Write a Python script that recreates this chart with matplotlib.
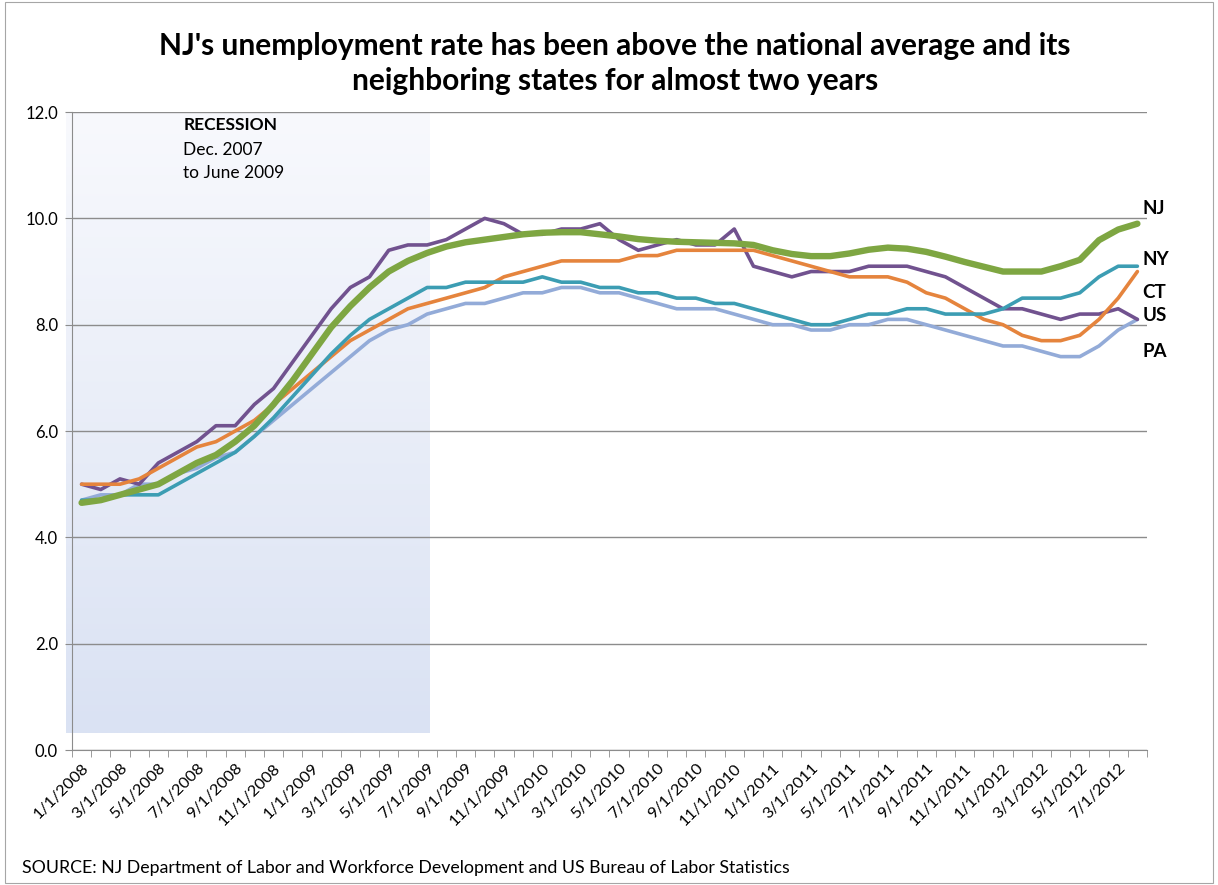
import matplotlib
matplotlib.use("Agg")
import matplotlib.pyplot as plt
import numpy as np
from matplotlib.patches import Rectangle
from matplotlib.colors import LinearSegmentedColormap

plt.rcParams['font.family'] = ['Lato', 'DejaVu Sans']

# Monthly categories, Jan 2008 - Aug 2012
months = [f"{m}/1/{y}" for y in range(2008, 2013) for m in range(1, 13)][:56]

nj = [4.65, 4.7, 4.8, 4.9, 5.0, 5.2, 5.4, 5.55, 5.8, 6.1, 6.5, 6.95, 7.45, 7.95, 8.35, 8.7,
      9.0, 9.2, 9.35, 9.47, 9.55, 9.6, 9.65, 9.7, 9.73, 9.74, 9.74, 9.7, 9.66, 9.61, 9.58, 9.56,
      9.55, 9.54, 9.53, 9.5, 9.4, 9.33, 9.29, 9.29, 9.34, 9.41, 9.45, 9.43, 9.37, 9.28, 9.18, 9.09,
      9.0, 9.0, 9.0, 9.1, 9.22, 9.59, 9.79, 9.9]
ny = [4.7, 4.7, 4.8, 4.8, 4.8, 5.0, 5.2, 5.4, 5.6, 5.9, 6.25, 6.65, 7.05, 7.45, 7.8, 8.1,
      8.3, 8.5, 8.7, 8.7, 8.8, 8.8, 8.8, 8.8, 8.9, 8.8, 8.8, 8.7, 8.7, 8.6, 8.6, 8.5,
      8.5, 8.4, 8.4, 8.3, 8.2, 8.1, 8.0, 8.0, 8.1, 8.2, 8.2, 8.3, 8.3, 8.2, 8.2, 8.2,
      8.3, 8.5, 8.5, 8.5, 8.6, 8.9, 9.1, 9.1]
ct = [5.0, 5.0, 5.0, 5.1, 5.3, 5.5, 5.7, 5.8, 6.0, 6.2, 6.5, 6.8, 7.1, 7.4, 7.7, 7.9,
      8.1, 8.3, 8.4, 8.5, 8.6, 8.7, 8.9, 9.0, 9.1, 9.2, 9.2, 9.2, 9.2, 9.3, 9.3, 9.4,
      9.4, 9.4, 9.4, 9.4, 9.3, 9.2, 9.1, 9.0, 8.9, 8.9, 8.9, 8.8, 8.6, 8.5, 8.3, 8.1,
      8.0, 7.8, 7.7, 7.7, 7.8, 8.1, 8.5, 9.0]
us = [5.0, 4.9, 5.1, 5.0, 5.4, 5.6, 5.8, 6.1, 6.1, 6.5, 6.8, 7.3, 7.8, 8.3, 8.7, 8.9,
      9.4, 9.5, 9.5, 9.6, 9.8, 10.0, 9.9, 9.7, 9.7, 9.8, 9.8, 9.9, 9.6, 9.4, 9.5, 9.6,
      9.5, 9.5, 9.8, 9.1, 9.0, 8.9, 9.0, 9.0, 9.0, 9.1, 9.1, 9.1, 9.0, 8.9, 8.7, 8.5,
      8.3, 8.3, 8.2, 8.1, 8.2, 8.2, 8.3, 8.1]
pa = [4.7, 4.8, 4.8, 5.0, 5.0, 5.2, 5.3, 5.5, 5.6, 5.9, 6.2, 6.5, 6.8, 7.1, 7.4, 7.7,
      7.9, 8.0, 8.2, 8.3, 8.4, 8.4, 8.5, 8.6, 8.6, 8.7, 8.7, 8.6, 8.6, 8.5, 8.4, 8.3,
      8.3, 8.3, 8.2, 8.1, 8.0, 8.0, 7.9, 7.9, 8.0, 8.0, 8.1, 8.1, 8.0, 7.9, 7.8, 7.7,
      7.6, 7.6, 7.5, 7.4, 7.4, 7.6, 7.9, 8.1]

series = [
    ("PA", pa, "#93abd8", 2.6),
    ("US", us, "#71528f", 2.6),
    ("CT", ct, "#e5843d", 2.6),
    ("NY", ny, "#3c9db3", 2.6),
    ("NJ", nj, "#7ea642", 4.6),
]
end_labels = {"NJ": 10.19, "NY": 9.23, "CT": 8.6, "US": 8.18, "PA": 7.49}

fig = plt.figure(figsize=(12.18, 8.85), dpi=100)
fig.patches.append(Rectangle((0.004, 0.002), 0.992, 0.996, transform=fig.transFigure,
                             fill=False, edgecolor="#a6a6a6", linewidth=0.8))
ax = fig.add_axes([0.0591, 0.1525, 0.8826, 0.7209])

x = np.arange(len(months))
ax.set_xlim(-0.5, len(months) - 0.5)
ax.set_ylim(0, 12)

# recession shading: pale at the top, light blue towards the bottom
grad = np.linspace(0, 1, 256).reshape(-1, 1)
cmap = LinearSegmentedColormap.from_list("rec", ["#f8f9fd", "#dae2f3"])
ax.imshow(grad, extent=[-0.81, 18.15, 0.32, 12.0], cmap=cmap, aspect="auto",
          origin="upper", zorder=0, clip_on=False, interpolation="bilinear")

ax.set_yticks(np.arange(0, 12.1, 2))
ax.set_yticklabels([f"{v:.1f}" for v in np.arange(0, 12.1, 2)])
ax.yaxis.grid(True, color="#8c8c8c", linewidth=1.0, zorder=1)
ax.set_axisbelow(True)

for name, vals, col, lw in series:
    ax.plot(x, vals, color=col, linewidth=lw, solid_joinstyle="round",
            solid_capstyle="round", zorder=3)

for name, yv in end_labels.items():
    ax.text(len(months) - 0.75, yv, name, fontsize=13.5, fontweight="bold",
            ha="left", va="center", clip_on=False)

ax.set_xticks(x[::2])
ax.set_xticklabels(months[::2], rotation=45, ha="right", va="top",
                   rotation_mode="anchor", fontsize=11.8)
ax.set_xticks(np.arange(-0.5, len(months)), minor=True)
ax.tick_params(axis="x", which="major", length=0, pad=8)
ax.tick_params(axis="x", which="minor", length=5, color="#8c8c8c")
ax.tick_params(axis="y", length=5, color="#8c8c8c", labelsize=12, pad=5)

for s in ["top", "right"]:
    ax.spines[s].set_visible(False)
for s in ["left", "bottom"]:
    ax.spines[s].set_color("#8c8c8c")

ax.text(5.3, 11.75, "RECESSION", fontsize=12.5, fontweight="bold", ha="left", va="center")
ax.text(5.3, 11.28, "Dec. 2007", fontsize=12.5, ha="left", va="center")
ax.text(5.3, 10.86, "to June 2009", fontsize=12.5, ha="left", va="center")

fig.text(0.505, 0.948, "NJ's unemployment rate has been above the national average and its",
         fontsize=21.5, fontweight="bold", ha="center", va="center")
fig.text(0.505, 0.908, "neighboring states for almost two years",
         fontsize=21.5, fontweight="bold", ha="center", va="center")

fig.text(0.018, 0.019, "SOURCE: NJ Department of Labor and Workforce Development and US Bureau of Labor Statistics",
         fontsize=12.8, ha="left", va="center")

fig.savefig("out.png", dpi=100)
